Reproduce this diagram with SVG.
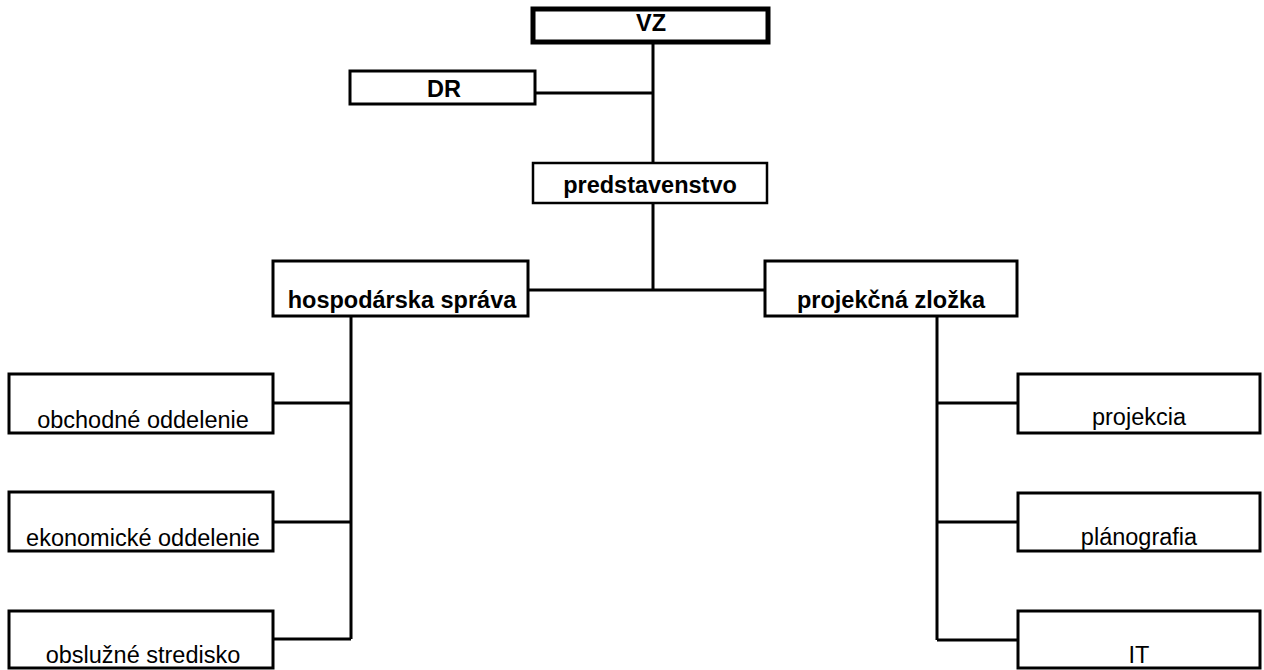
<svg xmlns="http://www.w3.org/2000/svg" width="1264" height="670" viewBox="0 0 1264 670">
<style>
.box{fill:#fff;stroke:#000;stroke-width:3}
.thick{stroke-width:5}
.mid{stroke-width:2.5}
.b{font-family:"Liberation Sans",Arial,sans-serif;font-size:23.5px;font-weight:bold;text-anchor:middle;fill:#000}
.r{font-family:"Liberation Sans",Arial,sans-serif;font-size:23.5px;text-anchor:middle;fill:#000}
.c{fill:none;stroke:#000;stroke-width:3}
</style>
<rect width="1264" height="670" fill="#fff"/>
<g id="connectors">
<path class="c" d="M653 42V163M535 93H653"/>
<path class="c" d="M653 203V290M528 290H765"/>
<path class="c" d="M351 316V639M273 403H351M273 522H351M273 639H351"/>
<path class="c" d="M937 316V640M937 403H1018M937 522H1018M937 640H1018"/>
</g>
<g id="vz"><rect class="box thick" x="533" y="9" width="235" height="33"/><text class="b" x="651" y="31">VZ</text></g>
<g id="dr"><rect class="box" x="350" y="71" width="185" height="33"/><text class="b" x="444" y="97">DR</text></g>
<g id="predstavenstvo"><rect class="box mid" x="533" y="163" width="234" height="40"/><text class="b" x="650" y="193">predstavenstvo</text></g>
<g id="hospodarska"><rect class="box" x="273" y="261" width="255" height="55"/><text class="b" x="402" y="308">hospodárska správa</text></g>
<g id="projekcna"><rect class="box" x="765" y="261" width="252" height="55"/><text class="b" x="891" y="308">projekčná zložka</text></g>
<g id="obchodne"><rect class="box" x="9" y="374" width="264" height="59"/><text class="r" x="143" y="428">obchodné oddelenie</text></g>
<g id="ekonomicke"><rect class="box" x="9" y="492" width="264" height="59"/><text class="r" x="143" y="546">ekonomické oddelenie</text></g>
<g id="obsluzne"><rect class="box" x="9" y="611" width="264" height="57"/><text class="r" x="143" y="663">obslužné stredisko</text></g>
<g id="projekcia"><rect class="box" x="1018" y="374" width="242" height="59"/><text class="r" x="1139" y="425">projekcia</text></g>
<g id="planografia"><rect class="box" x="1018" y="493" width="242" height="58"/><text class="r" x="1139" y="545">plánografia</text></g>
<g id="it"><rect class="box" x="1018" y="611" width="242" height="57"/><text class="r" x="1139" y="663">IT</text></g>
</svg>
